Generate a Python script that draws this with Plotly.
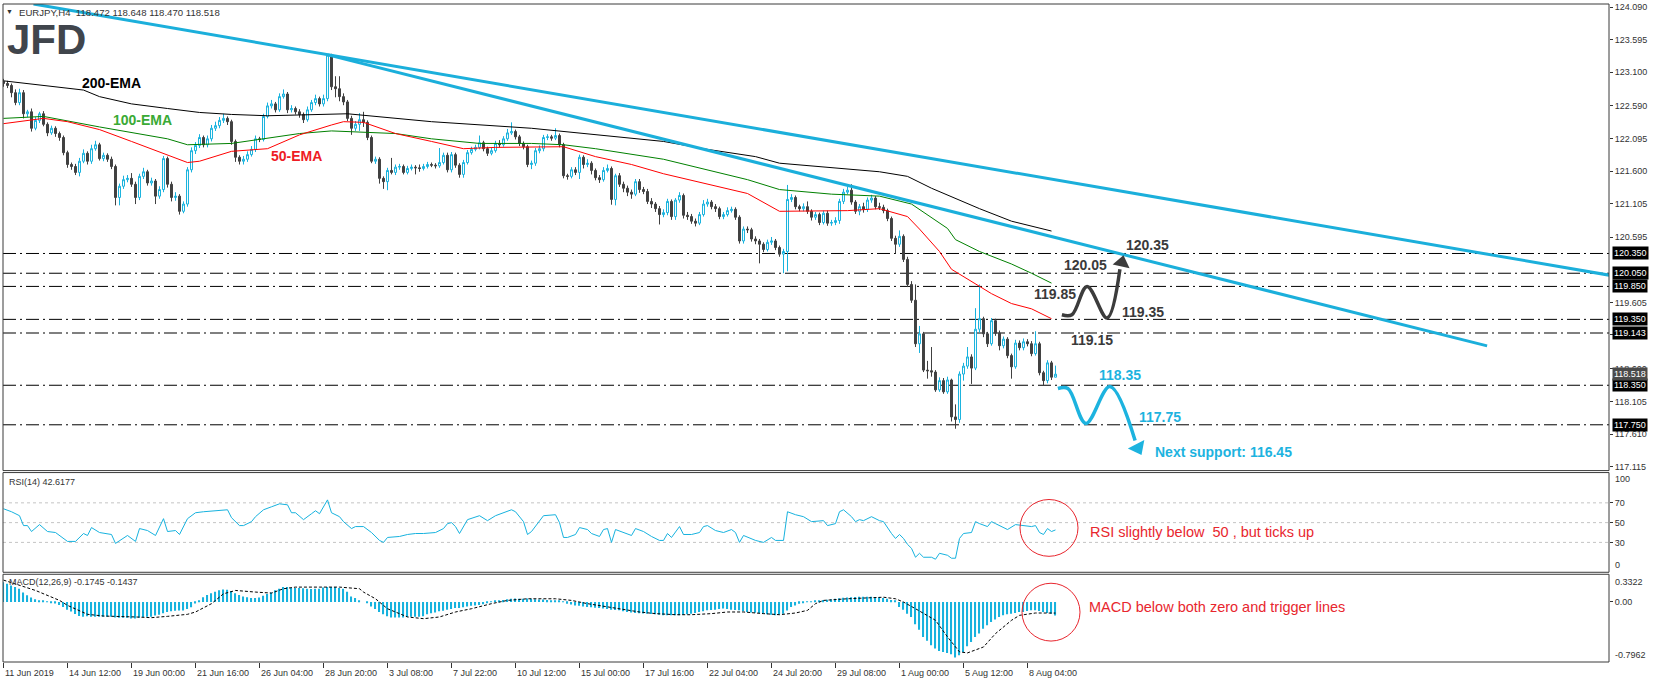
import plotly.graph_objects as go

# ---------------- data ----------------
first_open = 122.96
closes = [
122.93,122.90,122.79,122.64,122.79,122.47,122.50,122.25,122.37,122.47,
122.31,122.18,122.25,122.17,122.11,121.88,121.70,121.67,121.58,121.75,
121.87,121.75,121.94,122.00,121.79,121.84,121.78,121.67,121.20,121.37,
121.47,121.49,121.40,121.20,121.52,121.59,121.42,121.45,121.22,121.32,
121.79,121.40,121.20,121.22,120.99,121.10,121.62,121.91,121.99,122.11,
122.00,122.09,122.25,122.29,122.37,122.40,122.35,122.05,121.81,121.75,
121.78,121.85,121.93,122.09,122.08,122.43,122.59,122.62,122.53,122.73,
122.77,122.53,122.55,122.50,122.46,122.38,122.53,122.64,122.70,122.62,
122.70,123.36,122.88,122.85,122.73,122.65,122.40,122.25,122.31,122.38,
122.34,122.11,121.75,121.78,121.49,121.44,121.61,121.58,121.66,121.67,
121.58,121.64,121.66,121.65,121.64,121.67,121.70,121.69,121.68,121.73,
121.84,121.62,121.85,121.69,121.55,121.73,121.88,121.93,121.96,122.03,
121.94,121.87,121.91,122.02,122.00,122.09,122.18,122.20,122.12,122.02,
121.97,121.70,121.72,121.91,121.94,122.11,122.12,122.10,122.14,122.00,
121.53,121.52,121.62,121.58,121.81,121.70,121.72,121.61,121.50,121.47,
121.61,121.64,121.17,121.53,121.40,121.34,121.28,121.25,121.44,121.32,
121.29,121.14,121.10,121.03,120.94,120.97,121.14,120.91,121.16,121.23,
120.93,120.91,120.84,120.81,120.94,121.10,121.13,121.06,121.03,120.91,
120.94,121.00,121.02,120.90,120.54,120.72,120.71,120.57,120.54,120.49,
120.41,120.52,120.54,120.44,120.34,120.38,121.17,121.20,121.06,121.03,
121.06,120.99,120.90,120.94,120.82,120.96,120.81,120.82,120.85,121.14,
121.28,121.31,121.13,120.99,121.06,121.02,121.16,121.19,121.06,121.05,
121.00,120.88,120.58,120.49,120.61,120.26,119.88,119.64,118.98,119.13,
118.58,118.57,118.55,118.28,118.42,118.25,118.43,117.87,117.83,118.52,
118.64,118.78,118.61,119.20,119.36,119.13,118.98,119.33,119.14,118.95,
119.05,118.80,118.63,118.99,118.92,119.01,118.98,118.83,118.98,118.54,
118.42,118.69,118.472,118.518]
highs = [
123.00,122.97,122.93,122.84,122.85,122.83,122.53,122.55,122.42,122.50,
122.51,122.34,122.29,122.28,122.20,122.14,121.91,121.73,121.71,121.80,
121.93,121.90,122.00,122.06,122.03,121.88,121.87,121.82,121.70,121.41,
121.53,121.54,121.57,121.44,121.56,121.65,121.62,121.50,121.48,121.37,
121.83,121.82,121.44,121.28,121.25,121.14,121.66,121.96,122.04,122.16,
122.14,122.14,122.30,122.35,122.42,122.47,122.43,122.38,122.08,121.84,
121.83,121.90,121.98,122.14,122.12,122.47,122.64,122.68,122.65,122.78,
122.84,122.80,122.60,122.58,122.54,122.49,122.58,122.68,122.76,122.73,
122.76,123.38,123.38,123.04,123.04,122.78,122.68,122.44,122.36,122.48,
122.50,122.37,122.14,121.82,121.81,121.52,121.65,121.80,121.70,121.71,
121.70,121.68,121.70,121.69,121.70,121.71,121.74,121.73,121.72,121.95,
121.88,121.88,121.89,121.88,121.72,121.77,121.92,121.97,122.00,122.14,
122.06,121.97,121.95,122.06,122.07,122.13,122.24,122.34,122.23,122.15,
122.05,122.00,121.76,121.95,121.99,122.15,122.16,122.15,122.25,122.17,
122.03,121.56,121.66,121.66,121.85,121.84,121.78,121.75,121.64,121.54,
121.66,121.70,121.67,121.56,121.57,121.44,121.38,121.32,121.48,121.48,
121.36,121.33,121.19,121.13,121.07,121.02,121.18,121.17,121.19,121.28,
121.26,120.98,120.95,120.88,120.98,121.16,121.18,121.16,121.10,121.06,
120.98,121.05,121.06,121.05,120.93,120.76,120.76,120.74,120.61,120.57,
120.52,120.56,120.60,120.57,120.47,120.42,121.39,121.25,121.23,121.09,
121.11,121.14,121.02,120.98,120.97,121.00,121.00,120.86,120.90,121.18,
121.33,121.36,121.40,121.16,121.10,121.12,121.20,121.24,121.22,121.12,
121.09,121.03,120.91,120.62,120.70,120.64,120.30,119.93,119.88,119.25,
119.16,118.72,118.93,118.58,118.47,118.46,118.48,118.45,118.06,118.56,
118.69,118.93,118.82,119.52,119.88,119.39,119.16,119.37,119.36,119.18,
119.09,119.08,118.83,119.04,119.03,119.06,119.05,119.02,119.17,119.01,
118.57,118.73,118.72,118.648]
lows = [
122.88,122.86,122.72,122.60,122.60,122.40,122.42,122.20,122.22,122.33,
122.28,122.13,122.15,122.12,122.06,121.84,121.65,121.62,121.54,121.52,
121.72,121.70,121.71,121.91,121.76,121.75,121.74,121.63,121.08,121.08,
121.33,121.43,121.36,121.10,121.16,121.48,121.38,121.38,121.10,121.18,
121.28,121.35,121.14,121.15,120.94,120.96,121.06,121.58,121.86,121.95,
121.96,121.96,122.05,122.21,122.25,122.33,122.30,122.00,121.74,121.70,
121.70,121.74,121.82,121.89,122.04,122.05,122.40,122.55,122.49,122.50,
122.70,122.48,122.49,122.46,122.41,122.33,122.35,122.50,122.60,122.58,
122.58,122.66,122.83,122.72,122.66,122.60,122.36,122.15,122.21,122.21,
122.27,122.07,121.72,121.71,121.41,121.33,121.31,121.55,121.54,121.62,
121.55,121.55,121.61,121.55,121.59,121.61,121.64,121.66,121.64,121.65,
121.70,121.58,121.58,121.65,121.50,121.50,121.70,121.85,121.90,121.93,
121.90,121.83,121.84,121.88,121.96,121.97,122.06,122.15,122.08,121.98,
121.93,121.66,121.63,121.68,121.87,121.90,122.07,122.06,122.07,121.96,
121.49,121.47,121.49,121.54,121.48,121.64,121.66,121.55,121.46,121.42,
121.44,121.58,121.09,121.08,121.36,121.28,121.22,121.18,121.22,121.27,
121.25,121.10,121.04,120.98,120.79,120.90,120.93,120.86,120.86,121.12,
120.88,120.86,120.80,120.76,120.78,120.91,121.06,121.02,120.98,120.87,
120.87,120.91,120.97,120.86,120.50,120.50,120.66,120.53,120.49,120.20,
120.37,120.38,120.48,120.40,120.30,120.05,120.08,121.13,121.02,120.99,
120.99,120.95,120.85,120.86,120.78,120.79,120.77,120.77,120.78,120.80,
121.10,121.25,121.09,120.95,120.93,120.97,120.98,121.12,121.02,121.01,
120.96,120.84,120.54,120.35,120.45,120.22,119.84,119.60,118.93,118.84,
118.55,118.45,118.48,118.25,118.25,118.22,118.22,117.80,117.69,117.78,
118.42,118.60,118.37,118.58,119.15,119.08,118.93,118.95,119.10,118.88,
118.91,118.76,118.45,118.60,118.88,118.88,118.94,118.79,118.80,118.50,
118.34,118.38,118.43,118.470]
opens = [first_open] + closes[:-1]
bars = list(range(len(closes)))

ema200_bar = [0,20,24,32,41,49,57,66,86,107,132,165,176,188,194,219,226,232,244,252,262]
ema200_val = [122.97,122.83,122.73,122.62,122.55,122.49,122.46,122.44,122.47,122.35,122.25,
              122.05,121.93,121.82,121.72,121.59,121.52,121.34,121.03,120.84,120.69]
ema100_bar = [0,10,24,41,46,57,74,82,98,107,119,132,140,148,165,172,177,186,194,207,219,227,236,238,244,252,257,262]
ema100_val = [122.40,122.43,122.27,122.09,122.00,122.02,122.17,122.21,122.17,122.09,122.02,122.02,
              122.00,121.94,121.78,121.68,121.61,121.47,121.32,121.25,121.22,121.10,120.73,120.56,
              120.38,120.19,120.05,119.90]
ema50_bar = [0,10,16,24,32,41,46,49,57,66,74,82,85,90,98,107,115,123,132,140,148,157,165,172,177,
             186,194,203,211,219,226,229,234,237,241,247,252,257,262]
ema50_val = [122.32,122.40,122.35,122.23,122.05,121.85,121.73,121.75,121.90,121.94,122.15,122.30,
             122.35,122.34,122.17,122.05,121.94,121.96,121.97,121.97,121.82,121.70,121.56,121.46,
             121.40,121.26,120.99,120.99,121.00,121.03,120.91,120.72,120.38,120.11,119.96,119.74,
             119.59,119.51,119.36]

rsi_bar = [0,2,4,5,6,7,9,11,13,14,16,18,20,21,22,24,27,28,30,31,33,34,36,38,40,41,43,44,46,48,50,53,
           56,57,59,60,62,63,65,67,69,71,72,73,75,77,78,79,81,82,84,85,87,88,90,92,94,95,96,99,101,
           103,105,108,110,111,112,113,114,116,119,121,123,127,128,130,131,132,135,138,139,140,141,
           143,144,146,147,149,150,151,152,153,155,157,158,160,162,164,165,166,167,169,170,172,174,
           175,176,178,180,182,183,184,185,188,190,192,193,195,196,198,200,202,205,206,208,209,210,
           212,213,214,215,217,219,220,222,223,224,225,226,227,228,229,230,232,233,234,236,237,238,
           239,240,242,243,244,246,247,248,249,251,253,255,257,258,259,260,261,262,263]
rsi_val = [64,61,57,47,47,41,48,41,40,37,31,31,39,37,45,40,38,29,34,37,31,44,42,37,54,41,42,38,54,
           60,61,62,63,55,47,47,51,56,63,66,69,68,60,60,53,59,62,59,73,60,56,51,44,46,46,40,32,30,
           35,36,38,39,39,40,44,49,50,46,39,53,57,52,57,63,61,51,38,41,57,58,50,35,35,38,45,43,39,
           36,43,44,30,43,40,37,44,41,36,32,32,39,35,46,38,38,40,46,47,42,40,43,40,30,37,32,30,35,
           32,32,61,58,56,51,52,47,49,61,63,56,51,53,52,56,52,51,39,34,38,34,28,24,15,19,15,15,13,
           19,17,14,14,34,39,40,51,49,46,51,49,47,43,48,47,46,47,40,38,44,41,42.6177]

macd_hist = [
0.254,0.233,0.211,0.19,0.169,0.12,0.085,0.055,0.035,0.02,
0.012,0.006,-0.01,-0.02,-0.04,-0.065,-0.10,-0.125,-0.155,-0.18,
-0.19,-0.185,-0.19,-0.19,-0.19,-0.19,-0.19,-0.19,-0.20,-0.205,
-0.205,-0.205,-0.215,-0.215,-0.205,-0.195,-0.19,-0.19,-0.175,-0.165,
-0.145,-0.13,-0.12,-0.115,-0.11,-0.11,-0.09,-0.07,-0.02,0.01,
0.06,0.09,0.11,0.13,0.15,0.16,0.155,0.14,0.11,0.09,
0.07,0.06,0.05,0.05,0.055,0.08,0.10,0.12,0.15,0.17,
0.19,0.19,0.18,0.18,0.18,0.175,0.17,0.165,0.17,0.17,
0.185,0.19,0.19,0.19,0.18,0.17,0.13,0.07,0.05,0.02,
0.0,-0.01,-0.06,-0.09,-0.13,-0.16,-0.185,-0.2,-0.2,-0.2,
-0.2,-0.195,-0.19,-0.19,-0.19,-0.185,-0.16,-0.145,-0.135,-0.12,
-0.115,-0.1,-0.09,-0.08,-0.08,-0.07,-0.06,-0.05,-0.045,-0.04,
-0.03,-0.01,0.005,0.01,0.02,0.025,0.035,0.04,0.045,0.04,
0.04,0.045,0.04,0.035,0.03,0.03,0.025,0.02,0.02,0.01,
-0.005,-0.023,-0.035,-0.045,-0.05,-0.06,-0.066,-0.07,-0.075,-0.08,
-0.086,-0.093,-0.1,-0.105,-0.109,-0.12,-0.13,-0.137,-0.143,-0.147,
-0.15,-0.151,-0.155,-0.16,-0.167,-0.173,-0.173,-0.173,-0.173,-0.173,
-0.167,-0.16,-0.152,-0.143,-0.13,-0.12,-0.109,-0.105,-0.1,-0.093,
-0.086,-0.093,-0.1,-0.105,-0.109,-0.12,-0.13,-0.135,-0.14,-0.143,
-0.152,-0.16,-0.167,-0.173,-0.162,-0.151,-0.11,-0.066,-0.045,-0.023,
-0.012,-0.002,0.005,0.012,0.019,0.023,0.027,0.033,0.04,0.046,
0.053,0.057,0.06,0.063,0.065,0.066,0.066,0.066,0.063,0.06,
0.05,0.04,0.025,0.01,-0.066,-0.1,-0.151,-0.194,-0.288,-0.357,
-0.45,-0.5,-0.558,-0.6,-0.63,-0.643,-0.656,-0.673,-0.716,-0.686,
-0.643,-0.57,-0.515,-0.45,-0.408,-0.344,-0.3,-0.258,-0.228,-0.194,
-0.173,-0.16,-0.151,-0.143,-0.13,-0.13,-0.117,-0.109,-0.109,-0.117,
-0.13,-0.143,-0.151,-0.1745]
sig_bar = [0,8,14,16,21,25,33,37,41,46,48,52,55,58,63,67,70,73,79,84,89,90,93,96,101,105,109,113,117,
           122,126,131,138,142,146,151,155,159,163,168,172,177,181,185,190,194,198,201,203,205,211,
           215,220,223,225,228,233,236,239,241,245,248,252,254,258,263]
sig_val = [0.28,0.147,0.019,-0.045,-0.16,-0.182,-0.194,-0.203,-0.186,-0.16,-0.13,-0.023,0.104,0.147,
           0.126,0.113,0.169,0.19,0.19,0.19,0.169,0.126,0.04,-0.088,-0.194,-0.216,-0.194,-0.13,-0.088,
           -0.023,0.019,0.04,0.04,0.019,-0.023,-0.066,-0.1,-0.13,-0.151,-0.165,-0.165,-0.151,-0.13,
           -0.13,-0.151,-0.165,-0.143,-0.109,-0.023,0.019,0.04,0.053,0.06,0.04,-0.002,-0.088,-0.237,
           -0.45,-0.643,-0.656,-0.58,-0.408,-0.237,-0.173,-0.143,-0.1437]

# analyst drawings (bar index, price)
trend_upper = [(7.5, 124.136), (401.4, 120.021)]
trend_lower = [(81.1, 123.364), (370.9, 118.947)]
levels = [120.35, 120.05, 119.85, 119.35, 119.143, 118.35, 117.75]
bull_path_bar = [264.6, 267.1, 270.9, 275.9, 279.1]
bull_path_px = [119.42, 119.42, 119.85, 119.37, 120.11]
bull_head = (279.6, 120.21)
bear_path_bar = [263.6, 266.1, 270.6, 276.6, 282.9]
bear_path_px = [118.30, 118.30, 117.77, 118.33, 117.51]
bear_head = (283.6, 117.40)

date_tick_bars = [0,16,32,48,64,80,96,112,128,144,160,176,192,208,224,240,256]
date_tick_text = ["11 Jun 2019","14 Jun 12:00","19 Jun 00:00","21 Jun 16:00","26 Jun 04:00",
                  "28 Jun 20:00","3 Jul 08:00","7 Jul 22:00","10 Jul 12:00","15 Jul 00:00",
                  "17 Jul 16:00","22 Jul 04:00","24 Jul 20:00","29 Jul 08:00","1 Aug 00:00",
                  "5 Aug 12:00","8 Aug 04:00"]
price_ticks = [124.090,123.595,123.100,122.590,122.095,121.600,121.105,120.595,119.605,
               119.115,118.600,118.105,117.610,117.115]
current_price = 118.518

# ---------------- styling / layout geometry ----------------
W, H = 1655, 683
ML, MR, MT, MB = 3, 46, 2, 21
PW, PH = W - ML - MR, H - MT - MB
CYAN = "#17b2de"
DARK = "#404040"
FONT = "Liberation Sans"

def pxx(x):  # pixel -> paper x
    return (x - ML) / PW

def pxy(y):  # pixel -> paper y
    return (H - MB - y) / PH

dom_price = [pxy(470), 1.0]
dom_rsi = [pxy(572), pxy(472)]
dom_macd = [0.0, pxy(574)]

fig = go.Figure()

fig.add_trace(go.Candlestick(
    x=bars, open=opens, high=highs, low=lows, close=closes,
    increasing=dict(line=dict(color=CYAN, width=1), fillcolor="white"),
    decreasing=dict(line=dict(color=DARK, width=1), fillcolor=DARK),
    whiskerwidth=0, hoverinfo="skip", showlegend=False, xaxis="x", yaxis="y"))

for bx, vy, col in [(ema200_bar, ema200_val, "#000000"),
                    (ema100_bar, ema100_val, "#008000"),
                    (ema50_bar, ema50_val, "#ff0000")]:
    fig.add_trace(go.Scatter(x=bx, y=vy, mode="lines", line=dict(color=col, width=1),
                             hoverinfo="skip", showlegend=False, xaxis="x", yaxis="y"))

for tl in (trend_upper, trend_lower):
    fig.add_trace(go.Scatter(x=[p[0] for p in tl], y=[p[1] for p in tl], mode="lines",
                             line=dict(color="#1bafdb", width=3), hoverinfo="skip",
                             showlegend=False, xaxis="x", yaxis="y"))

# scenario paths
fig.add_trace(go.Scatter(x=bull_path_bar, y=bull_path_px, mode="lines",
                         line=dict(color="#3c3c3c", width=3.5, shape="spline", smoothing=1.0),
                         hoverinfo="skip", showlegend=False, xaxis="x", yaxis="y"))
fig.add_trace(go.Scatter(x=[bull_head[0]], y=[bull_head[1]], mode="markers",
                         marker=dict(symbol="triangle-up", size=15, color="#3c3c3c", angle=12),
                         hoverinfo="skip", showlegend=False, xaxis="x", yaxis="y"))
fig.add_trace(go.Scatter(x=bear_path_bar, y=bear_path_px, mode="lines",
                         line=dict(color="#1db3df", width=3.5, shape="spline", smoothing=1.0),
                         hoverinfo="skip", showlegend=False, xaxis="x", yaxis="y"))
fig.add_trace(go.Scatter(x=[bear_head[0]], y=[bear_head[1]], mode="markers",
                         marker=dict(symbol="triangle-up", size=16, color="#1db3df", angle=153),
                         hoverinfo="skip", showlegend=False, xaxis="x", yaxis="y"))

# RSI
fig.add_trace(go.Scatter(x=rsi_bar, y=rsi_val, mode="lines", line=dict(color=CYAN, width=1),
                         hoverinfo="skip", showlegend=False, xaxis="x2", yaxis="y2"))
# MACD
fig.add_trace(go.Bar(x=bars, y=macd_hist, width=0.28, marker=dict(color=CYAN, line=dict(width=0)),
                     hoverinfo="skip", showlegend=False, xaxis="x3", yaxis="y3"))
fig.add_trace(go.Scatter(x=sig_bar, y=sig_val, mode="lines",
                         line=dict(color="#000000", width=1, dash="3px,2px"),
                         hoverinfo="skip", showlegend=False, xaxis="x3", yaxis="y3"))

xr = [-0.125, (W - MR - 3.5) / 4.0]
common_x = dict(range=xr, showgrid=False, zeroline=False, showticklabels=False,
                showline=False, fixedrange=True)
tickfont = dict(family=FONT, size=9, color="#333333")

shapes = []
for lv in levels:
    shapes.append(dict(type="line", xref="paper", x0=0, x1=1, yref="y", y0=lv, y1=lv,
                       line=dict(color="#000000", width=1, dash="13px,4px,2px,4px"), layer="below"))
for lv in (30, 50, 70):
    shapes.append(dict(type="line", xref="paper", x0=0, x1=1, yref="y2", y0=lv, y1=lv,
                       line=dict(color="#c4c4c4", width=1, dash="3px,3px"), layer="below"))
for d in (dom_price, dom_rsi, dom_macd):
    shapes.append(dict(type="rect", xref="paper", yref="paper", x0=0, x1=1, y0=d[0], y1=d[1],
                       line=dict(color="#3a3a3a", width=1), fillcolor="rgba(0,0,0,0)", layer="above"))
# red circles
shapes.append(dict(type="circle", xref="paper", yref="paper", x0=pxx(1020), x1=pxx(1078),
                   y0=pxy(556), y1=pxy(499), line=dict(color="#e8262e", width=1)))
shapes.append(dict(type="circle", xref="paper", yref="paper", x0=pxx(1022), x1=pxx(1080),
                   y0=pxy(641), y1=pxy(583), line=dict(color="#e8262e", width=1)))

ann = []

def text_at(t, x, y, size, color, bold=False, xanchor="center", family=FONT):
    ann.append(dict(text=("<b>%s</b>" % t) if bold else t, xref="paper", yref="paper",
                    x=pxx(x), y=pxy(y), xanchor=xanchor, yanchor="middle", showarrow=False,
                    font=dict(family=family, size=size, color=color)))

# price label boxes on the right axis
for lv in levels + [current_price]:
    ann.append(dict(text="%.3f" % lv, xref="paper", yref="y", x=1, y=lv, xanchor="left",
                    xshift=3, yanchor="middle", showarrow=False,
                    bgcolor="#000000" if lv != current_price else "#4a4a4a",
                    borderpad=1, font=dict(family=FONT, size=9, color="white")))
# RSI/MACD scale labels
for t, v in [("100", 94.5), ("0", 6.9)]:
    ann.append(dict(text=t, xref="paper", yref="y2", x=1, y=v, xanchor="left", xshift=4,
                    yanchor="middle", showarrow=False, font=tickfont))
for t, v in [("0.3322", 0.253), ("-0.7962", -0.683)]:
    ann.append(dict(text=t, xref="paper", yref="y3", x=1, y=v, xanchor="left", xshift=4,
                    yanchor="middle", showarrow=False, font=tickfont))
# date labels
for b, t in zip(date_tick_bars, date_tick_text):
    ann.append(dict(text=t, xref="x", yref="paper", x=b, y=0, xanchor="left", xshift=-1,
                    yanchor="top", yshift=-4, showarrow=False, font=tickfont))

text_at("▼", 9.5, 10, 7, "#333333")
text_at("EURJPY,H4  118.472 118.648 118.470 118.518", 17, 11, 9.6, "#333333", xanchor="left")
text_at("JFD", 5, 38, 42, "#40454c", bold=True, xanchor="left")
text_at("200-EMA", 112, 81, 14, "#000000", bold=True)
text_at("100-EMA", 142, 118, 14, "#3aaa35", bold=True)
text_at("50-EMA", 296, 154, 14, "#ee1c25", bold=True)
text_at("RSI(14) 42.6177", 7, 481, 9, "#333333", xanchor="left")
text_at("MACD(12,26,9) -0.1745 -0.1437", 7, 582, 9, "#333333", xanchor="left")

for t, x, y in [("120.35", 1147, 244), ("120.05", 1085, 264), ("119.85", 1055, 293),
                ("119.35", 1143, 311), ("119.15", 1092, 339)]:
    text_at(t, x, y, 14, "#3a3a3a", bold=True)
for t, x, y in [("118.35", 1120, 374), ("117.75", 1160, 416), ("Next support: 116.45", 1223, 451)]:
    text_at(t, x, y, 14, "#1db3df", bold=True)

text_at("RSI slightly below  50 , but ticks up", 1088, 532, 14.5, "#e8262e", xanchor="left")
text_at("MACD below both zero and trigger lines", 1087, 607, 14.5, "#e8262e", xanchor="left")

fig.update_layout(
    width=W, height=H, margin=dict(l=ML, r=MR, t=MT, b=MB, pad=0),
    paper_bgcolor="white", plot_bgcolor="white", showlegend=False, barmode="overlay",
    xaxis=dict(common_x, anchor="y", domain=[0, 1], rangeslider=dict(visible=False)),
    xaxis2=dict(common_x, anchor="y2", domain=[0, 1], matches="x"),
    xaxis3=dict(common_x, anchor="y3", domain=[0, 1], matches="x",
                tickvals=date_tick_bars, ticks="outside", ticklen=5, tickcolor="#333333"),
    yaxis=dict(domain=dom_price, anchor="x", side="right", range=[117.055, 124.136],
               showgrid=False, zeroline=False, tickvals=price_ticks,
               ticktext=["%.3f" % v for v in price_ticks], ticks="outside", ticklen=3,
               tickcolor="#333333", tickfont=tickfont, fixedrange=True),
    yaxis2=dict(domain=dom_rsi, anchor="x2", side="right", range=[-0.2, 100.6],
                showgrid=False, zeroline=False, tickvals=[30, 50, 70], ticks="outside",
                ticklen=3, tickcolor="#333333", tickfont=tickfont, fixedrange=True),
    yaxis3=dict(domain=dom_macd, anchor="x3", side="right", range=[-0.773, 0.355],
                showgrid=False, zeroline=False, tickvals=[0], ticktext=["0.00"], ticks="outside",
                ticklen=3, tickcolor="#333333", tickfont=tickfont, fixedrange=True),
    shapes=shapes, annotations=ann,
)

fig.write_html("out.html", config={"displayModeBar": False},
               post_script="document.body.style.margin='0';document.body.style.padding='0';"
                           "document.body.style.overflow='hidden';")
